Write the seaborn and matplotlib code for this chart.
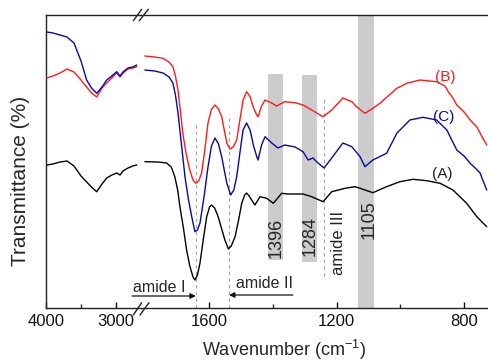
import numpy as np
import pandas as pd
import matplotlib
matplotlib.use("Agg")
import matplotlib.pyplot as plt
import seaborn as sns

# ---------------- data (arbitrary transmittance units, offset spectra) ----------------
# high-wavenumber segment (4000 - 2650 cm-1)
wn_left = [3990, 3900, 3800, 3700, 3600, 3500, 3420, 3350, 3276, 3200, 3133, 3060,
           2990, 2943, 2900, 2829, 2760, 2704]
A_left = [143, 144, 146, 147, 142, 132, 126, 121, 116.3, 124, 130, 133, 135, 133, 137, 140, 142, 143]
B_left = [230, 232, 235, 239, 236, 228, 221, 215, 211, 220, 225, 230, 235, 231, 235, 239, 240, 241.3]
C_left = [276, 275, 273, 271, 265, 247, 228, 220, 214.7, 221, 228, 232, 236.3, 232, 236, 240, 241, 243]

# fingerprint segment (1800 - 725 cm-1)
wn_A = [1801, 1760, 1733, 1718, 1707, 1698, 1691, 1680, 1670, 1660, 1650, 1644, 1636, 1628,
        1617, 1607, 1598, 1592, 1582, 1571, 1560, 1550, 1539, 1530, 1518, 1507, 1497, 1488,
        1482, 1474, 1466, 1456, 1448, 1440, 1419, 1398, 1372, 1352, 1305, 1278, 1242, 1215,
        1173, 1142, 1126, 1086, 1043, 1001, 960, 917, 875, 835, 792, 760, 729]
A_right = [146.3, 146, 145, 141, 131.3, 118, 101.3, 80, 58, 42, 31, 28, 33, 45,
           70, 91.3, 101, 103, 100, 91.3, 79, 68, 59, 62, 71.3, 88, 105, 113,
           115, 112, 108, 103, 107, 111.3, 109.7, 104.7, 114.7, 114, 114, 111.3, 106.3, 116.3,
           119.7, 121.3, 119.7, 115.3, 121.3, 126.3, 128.7, 127.3, 124.7, 118, 104.7, 91.3, 81.3]

wn_B = [1801, 1770, 1744, 1725, 1713, 1705, 1697, 1690, 1682, 1672, 1660, 1650, 1641, 1632,
        1623, 1613, 1603, 1592, 1581, 1570, 1560, 1552, 1544, 1534, 1524, 1513, 1503, 1493,
        1482, 1471, 1460, 1450, 1446, 1435, 1424, 1403, 1388, 1362, 1330, 1305, 1278, 1262,
        1242, 1215, 1180, 1152, 1137, 1111, 1086, 1064, 1011, 980, 938, 886, 860, 849, 835,
        823, 800, 781, 760, 745, 729]
B_right = [252, 251, 249.7, 246, 241.3, 232, 218, 198, 175, 155, 138, 128, 124.7, 127,
           135, 158, 185, 199, 203, 199, 191.3, 178, 165, 159, 161, 168, 188, 208,
           216.3, 211.3, 200, 193, 191.3, 202, 208, 205, 202, 206.3, 205.3, 203, 198, 195,
           191.3, 198, 210, 206.3, 201.3, 194.7, 199.7, 204.7, 219.7, 224.7, 228, 226.3, 222, 216, 210,
           203, 196, 188, 181, 172, 163]

wn_C = [1801, 1770, 1744, 1725, 1713, 1705, 1697, 1686, 1675, 1664, 1654, 1644, 1636, 1628,
        1615, 1603, 1592, 1581, 1570, 1560, 1552, 1544, 1532, 1522, 1513, 1503, 1493, 1482,
        1471, 1460, 1450, 1446, 1435, 1424, 1403, 1384, 1362, 1330, 1305, 1289, 1274, 1258,
        1239, 1215, 1180, 1152, 1126, 1111, 1086, 1043, 1011, 970, 929, 886, 854, 823, 800,
        781, 765, 750, 729]
C_right = [238, 237, 235, 231, 225, 213, 195, 163, 131, 108, 91.3, 76.3, 78, 85,
           112, 141, 162, 170, 164, 151.3, 138, 125, 113, 118, 131.3, 155, 178, 185,
           178, 162, 151.3, 148, 163, 171.3, 165, 160, 163, 161, 156.3, 148, 150, 145,
           140, 150, 165, 161.3, 151.3, 141.3, 148, 154.7, 174.7, 188, 190.7, 188, 178, 158, 152,
           144.7, 140, 135, 118]

series_names = ["(A)", "(B)", "(C)"]
series_colors = ["#000000", "#ff1a1a", "#0a0a9e"]

# marked bands
band_labels = ["1396", "1284", "1105"]
band_ranges = [(1414, 1367), (1307, 1260), (1132, 1082)]
band_spans = [(48, 234), (46, 233), (0, 293)]
dash_pos = [1641, 1536, 1239]
dash_spans = [(0, 183), (0, 191), (32, 211)]

# ---------------- build long-form tables ----------------
left_df = pd.concat([
    pd.DataFrame({"wn": wn_left, "T": A_left, "s": "(A)"}),
    pd.DataFrame({"wn": wn_left, "T": B_left, "s": "(B)"}),
    pd.DataFrame({"wn": wn_left, "T": C_left, "s": "(C)"}),
])
right_df = pd.concat([
    pd.DataFrame({"wn": wn_A, "T": A_right, "s": "(A)"}),
    pd.DataFrame({"wn": wn_B, "T": B_right, "s": "(B)"}),
    pd.DataFrame({"wn": wn_C, "T": C_right, "s": "(C)"}),
])

sns.set_style("ticks")
plt.rcParams["font.family"] = ["Liberation Sans", "DejaVu Sans"]
plt.rcParams["mathtext.default"] = "regular"
plt.rcParams["axes.linewidth"] = 1.0

W, H = 488, 361
fig = plt.figure(figsize=(W / 100, H / 100), dpi=100)
bot = 53 / H
hgt = 293 / H
ax1 = fig.add_axes([46 / W, bot, 95 / W, hgt])
ax2 = fig.add_axes([141 / W, bot, 347 / W, hgt])

pal = dict(zip(series_names, series_colors))
for ax, df in ((ax1, left_df), (ax2, right_df)):
    sns.lineplot(data=df, x="wn", y="T", hue="s", palette=pal, estimator=None,
                 errorbar=None, legend=False, lw=1.0, ax=ax, zorder=3)
    ax.set_ylim(0, 293)
    ax.set_xlabel("")
    ax.set_ylabel("")
    ax.set_yticks([])
    ax.tick_params(axis="x", direction="in", length=4, width=1.0, labelsize=12,
                   pad=4, colors="#111111")
    ax.tick_params(axis="x", which="minor", direction="in", length=3, width=1.0)
    for sp in ax.spines.values():
        sp.set_color("#222222")

ax1.set_xlim(4000, 2643)
ax1.set_xticks([4000, 3000])
ax1.set_xticks([3500], minor=True)
ax1.spines["right"].set_visible(False)

ax2.set_xlim(1813, 725)
ax2.set_xticks([1600, 1200, 800])
ax2.set_xticks([1400, 1000], minor=True)
ax2.spines["left"].set_visible(False)
ax2.spines["right"].set_visible(False)

# gray bands
for (x0, x1), (y0, y1) in zip(band_ranges, band_spans):
    ax2.axvspan(x1, x0, ymin=y0 / 293, ymax=y1 / 293, color="#cccccc", lw=0, zorder=0)

# dashed marker lines
for xp, (y0, y1) in zip(dash_pos, dash_spans):
    ax2.plot([xp, xp], [y0, y1], ls=(0, (3, 3)), color="#a0a0a0", lw=0.8, zorder=1)

# band labels
ax2.text(1388, 70.5, band_labels[0], rotation=90, ha="center", va="center", fontsize=13)
ax2.text(1283, 72, band_labels[1], rotation=90, ha="center", va="center", fontsize=13)
ax2.text(1098, 88, band_labels[2], rotation=90, ha="center", va="center", fontsize=13)
ax2.text(1195, 65.5, "amide III", rotation=90, ha="center", va="center", fontsize=12)

# amide I / II arrows
ax2.annotate("", xy=(1641, 12), xytext=(1841, 12), annotation_clip=False,
             arrowprops=dict(arrowstyle="-|>", color="#111111", lw=0.9,
                             mutation_scale=8, shrinkA=0, shrinkB=0))
ax2.text(1757, 20, "amide I", ha="center", va="center", fontsize=11.5, clip_on=False)
ax2.annotate("", xy=(1537, 13), xytext=(1337, 13), annotation_clip=False,
             arrowprops=dict(arrowstyle="-|>", color="#111111", lw=0.9,
                             mutation_scale=8, shrinkA=0, shrinkB=0))
ax2.text(1427, 24, "amide II", ha="center", va="center", fontsize=11.5)

# series labels
ax2.text(860, 230.5, "(B)", color=series_colors[1], ha="center", va="center", fontsize=11)
ax2.text(864.5, 190.5, "(C)", color=series_colors[2], ha="center", va="center", fontsize=11)
ax2.text(868, 134, "(A)", color="#222222", ha="center", va="center", fontsize=11)

# axis break marks
for (xa, ya, xb, yb) in [(133.3, 20.7, 141.7, 9.3), (139.3, 20.7, 148.3, 9.3),
                         (133.3, 315, 141.7, 302.7), (140, 315, 149, 302.7)]:
    fig.add_artist(plt.Line2D([xa / W, xb / W], [1 - ya / H, 1 - yb / H],
                              color="#222222", lw=1.0, transform=fig.transFigure))

# axis labels
fig.text(284 / W, 1 - 350 / H, "Wavenumber (cm$^{-1}$)", ha="center", va="center", fontsize=13)
fig.text(21 / W, 1 - 181 / H, "Transmittance (%)", rotation=90, ha="center", va="center",
         fontsize=15)

fig.savefig("out.png", dpi=100)
